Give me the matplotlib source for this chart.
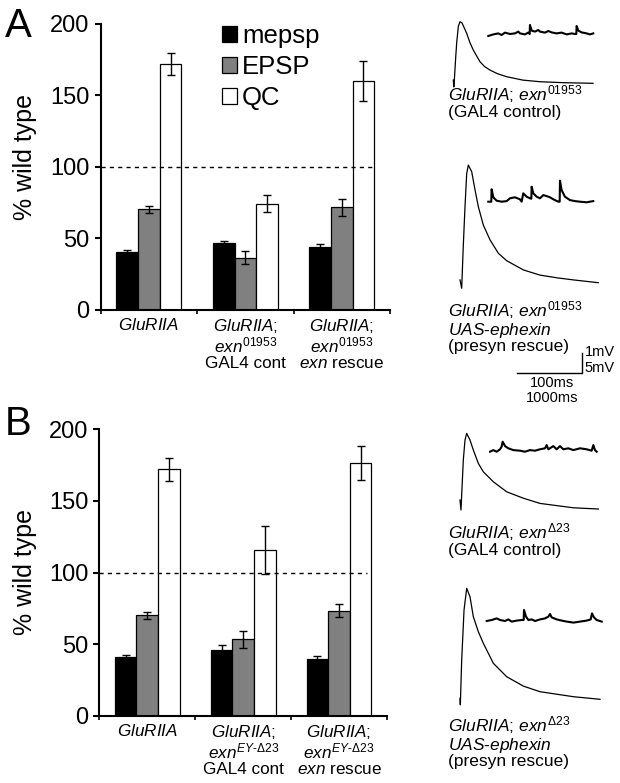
import numpy as np
import matplotlib
matplotlib.use('Agg')
import matplotlib.pyplot as plt
from matplotlib.patches import Patch

plt.rcParams['font.family'] = ['Liberation Sans', 'DejaVu Sans']
plt.rcParams['mathtext.fontset'] = 'custom'
plt.rcParams['mathtext.rm'] = 'Liberation Sans'
plt.rcParams['mathtext.it'] = 'Liberation Sans:italic'
plt.rcParams['mathtext.bf'] = 'Liberation Sans:bold'
plt.rcParams['mathtext.sf'] = 'Liberation Sans'

#-----------------------------------------------------------------------------#
# Bar data (% wild type)
#-----------------------------------------------------------------------------#
series_names = ['mepsp', 'EPSP', 'QC']
series_colors = ['black', '#808080', 'white']

mepsp_A = [40.8, 46.6, 43.8]
mepsp_A_err = [1.5, 2.0, 2.3]
epsp_A = [70.4, 36.6, 71.8]
epsp_A_err = [2.5, 4.5, 6.0]
qc_A = [172.0, 74.4, 160.0]
qc_A_err = [8.0, 6.0, 14.0]

mepsp_B = [40.9, 46.0, 40.0]
mepsp_B_err = [1.5, 3.3, 2.0]
epsp_B = [70.2, 53.5, 73.3]
epsp_B_err = [2.5, 6.0, 4.5]
qc_B = [172.0, 115.8, 176.3]
qc_B_err = [8.0, 16.5, 12.0]

yticks = [0, 50, 100, 150, 200]

groups_A = [
    r'$\mathit{GluRIIA}$',
    '$\\mathit{GluRIIA}$;\n$\\mathit{exn}^{\\mathit{01953}}$\nGAL4 cont',
    '$\\mathit{GluRIIA}$;\n$\\mathit{exn}^{\\mathit{01953}}$\n$\\mathit{exn}$ rescue',
]
groups_B = [
    r'$\mathit{GluRIIA}$',
    '$\\mathit{GluRIIA}$;\n$\\mathit{exn}^{\\mathit{EY}\\text{-}\\mathit{Δ23}}$\nGAL4 cont',
    '$\\mathit{GluRIIA}$;\n$\\mathit{exn}^{\\mathit{EY}\\text{-}\\mathit{Δ23}}$\n$\\mathit{exn}$ rescue',
]

trace_labels_A = [
    '$\\mathit{GluRIIA}$; $\\mathit{exn}^{\\mathit{01953}}$\n(GAL4 control)',
    '$\\mathit{GluRIIA}$; $\\mathit{exn}^{\\mathit{01953}}$\n$\\mathit{UAS}$-$\\mathit{ephexin}$\n(presyn rescue)',
]
trace_labels_B = [
    '$\\mathit{GluRIIA}$; $\\mathit{exn}^{\\mathit{Δ23}}$\n(GAL4 control)',
    '$\\mathit{GluRIIA}$; $\\mathit{exn}^{\\mathit{Δ23}}$\n$\\mathit{UAS}$-$\\mathit{ephexin}$\n(presyn rescue)',
]

#-----------------------------------------------------------------------------#
# Example traces: EPSP (ms, mV) and mEPSP (ms, mV)
#-----------------------------------------------------------------------------#
epsp_A1_t = [0, 0.8, 1.5, 3.5, 5.2, 7.7, 10.3, 13.4, 20.6, 25.5, 30.8, 41, 48, 56.5, 68, 82, 107, 133, 170, 215]
epsp_A1_v = [0.8, -0.9, 0.5, 6.0, 10.1, 14.2, 15.4, 15.1, 12.5, 10.2, 8.3, 5.4, 4.2, 3.3, 2.4, 1.65, 0.8, 0.4, 0.15, 0]
mepsp_A1_t = [0, 77, 154, 205, 256, 333, 410, 462, 487, 564, 615, 636, 641, 667, 718, 769, 795, 872, 923, 974,
              1051, 1128, 1205, 1282, 1333, 1354, 1359, 1385, 1436, 1513, 1564, 1615]
mepsp_A1_v = [-0.05, 0.03, 0.08, 0.0, 0.12, 0.05, 0.08, 0.17, 0.08, 0.03, 0.12, 0.05, 0.5, 0.22, 0.17, 0.25,
              0.17, 0.12, 0.2, 0.13, 0.08, 0.12, 0.03, 0.08, 0.05, 0.05, 0.45, 0.22, 0.13, 0.08, 0.03, 0.08]

epsp_A2_t = [0, 2.6, 5.0, 7.7, 10.3, 12.8, 18, 23.1, 28.2, 35.9, 46.2, 59, 71.8, 97.4, 123, 150, 174.4, 212.8]
epsp_A2_v = [0.7, -1.4, 9.0, 19.0, 27.3, 29.4, 27.75, 23.2, 19.0, 14.4, 10.7, 7.35, 5.5, 3.2, 1.9, 1.2, 0.7, 0]
mepsp_A2_t = [0, 46, 51, 77, 128, 205, 282, 333, 410, 487, 513, 538, 590, 641, 662, 667, 692, 744, 795, 846,
              897, 949, 1000, 1077, 1098, 1103, 1128, 1179, 1256, 1333, 1410, 1513, 1615]
mepsp_A2_v = [0.0, 0.0, 0.62, 0.22, 0.05, 0.0, 0.03, 0.17, 0.22, 0.12, 0.0, 0.42, 0.25, 0.17, 0.15, 0.75, 0.42,
              0.25, 0.17, 0.33, 0.28, 0.22, 0.12, 0.0, 0.0, 1.05, 0.58, 0.25, 0.08, 0.03, 0.0, -0.03, 0.03]

epsp_B1_t = [0, 1.5, 5.1, 7.7, 10.3, 15.4, 20.5, 28.2, 35.9, 51.3, 71.8, 97.4, 123, 174.4, 212.8]
epsp_B1_v = [2.25, -0.25, 12.25, 17.25, 18.9, 17.25, 14.75, 11.4, 9.3, 6.8, 4.3, 2.7, 1.4, 0.3, 0]
mepsp_B1_t = [0, 51, 103, 154, 179, 195, 231, 282, 359, 462, 538, 615, 692, 769, 846, 872, 897, 974, 1026,
              1077, 1128, 1205, 1282, 1385, 1487, 1564, 1590, 1615, 1641]
mepsp_B1_v = [-0.05, 0.03, -0.05, 0.07, 0.2, 0.45, 0.23, 0.12, 0.03, 0.0, -0.05, 0.03, 0.0, 0.07, 0.12, 0.28,
              0.07, 0.23, 0.07, 0.23, 0.07, 0.12, 0.03, 0.12, 0.07, 0.0, 0.28, 0.03, -0.05]

epsp_B2_t = [0, 0.5, 2.6, 6.2, 10.3, 15.4, 20.5, 28.2, 35.9, 51.3, 71.8, 97.4, 123, 174.4, 215.4]
epsp_B2_v = [0.25, -1.4, 9.8, 22.3, 27.75, 25.65, 20.65, 16.9, 14.0, 9.0, 5.65, 3.3, 1.9, 0.65, 0]
mepsp_B2_t = [0, 77, 154, 205, 282, 333, 385, 462, 538, 569, 574, 605, 641, 692, 744, 821, 897, 949, 974,
              1000, 1077, 1154, 1231, 1333, 1436, 1538, 1600, 1620, 1651, 1692, 1769]
mepsp_B2_v = [0.0, 0.05, 0.13, 0.05, 0.0, 0.08, -0.03, 0.02, 0.05, 0.05, 0.55, 0.22, 0.05, 0.08, 0.0, 0.08,
              0.13, 0.22, 0.35, 0.18, 0.08, 0.02, -0.03, -0.08, -0.03, 0.02, 0.08, 0.38, 0.18, 0.05, -0.03]

W, H = 620, 783
fig = plt.figure(figsize=(W/100, H/100), dpi=100)


def px_axes(left, top, right, bottom):
    # axes box given in pixels measured from the top-left corner
    return fig.add_axes([left/W, 1 - bottom/H, (right - left)/W, (bottom - top)/H])


def draw_bars(ax, values, errors, groups, dash_end, legend=False):
    x = np.arange(3) + 0.5
    width = 0.225
    for k in range(3):
        ax.bar(x + (k - 1)*width, values[k], width, color=series_colors[k],
               edgecolor='black', linewidth=0.9, label=series_names[k], zorder=2)
        ax.errorbar(x + (k - 1)*width, values[k], yerr=errors[k], fmt='none',
                    ecolor='black', elinewidth=1, capsize=3, capthick=1, zorder=4)
    ax.axhline(100, xmin=0, xmax=dash_end, color='black', lw=1, dashes=(3, 3), zorder=3)

    ax.set_xlim(0, 3)
    ax.set_ylim(0, 200)
    ax.set_yticks(yticks)
    ax.set_xticks([0, 1, 2, 3])
    ax.set_xticklabels([])
    ax.tick_params(axis='y', direction='out', length=4, width=1.5, labelsize=17, pad=4)
    ax.tick_params(axis='x', direction='out', length=3, width=1.2)
    for s in ['top', 'right']:
        ax.spines[s].set_visible(False)
    for s in ['left', 'bottom']:
        ax.spines[s].set_linewidth(1.5)

    for i, label in enumerate(groups):
        ax.annotate(label, xy=(x[i], 0), xycoords=ax.get_xaxis_transform(),
                    xytext=(0, -5), textcoords='offset points',
                    ha='center', va='top', fontsize=12.3, linespacing=1.05,
                    multialignment='center')

    if legend:
        handles = [Patch(facecolor=c, edgecolor='black', linewidth=0.9) for c in series_colors]
        ax.legend(handles, series_names, loc='upper left', bbox_to_anchor=(0.418, 1.0),
                  frameon=False, fontsize=18.5, handlelength=0.6, handleheight=0.6,
                  handletextpad=0.2, labelspacing=0.28, borderpad=0, borderaxespad=0)


def trace_axes(x0, y0, t_range, v_range, px_t, px_v):
    # (x0, y0): pixel location of t=0, v=0; px_t, px_v: pixels per ms and per mV
    left = x0 + t_range[0]*px_t
    right = x0 + t_range[1]*px_t
    bottom = y0 - v_range[0]*px_v
    top = y0 - v_range[1]*px_v
    ax = px_axes(left, top, right, bottom)
    ax.set_xlim(*t_range)
    ax.set_ylim(*v_range)
    ax.axis('off')
    return ax


def draw_trace(x0, y0, t, v, xm0, ym0, tm, vm):
    ax = trace_axes(x0, y0, (-5, 225), (-3, 32), 0.65, 4.0)
    ax.plot(t, v, color='black', lw=0.9)
    axm = trace_axes(xm0, ym0, (-20, 1800), (-0.5, 1.2), 0.065, 20.0)
    axm.plot(tm, vm, color='black', lw=1.5)


def trace_label(y_top, label):
    fig.text(448/W, 1 - y_top/H, label, ha='left', va='top', fontsize=12.5, linespacing=0.98)


#-----------------------------------------------------------------------------#
# Panel A
#-----------------------------------------------------------------------------#
axA = px_axes(100.7, 24, 390, 310)
draw_bars(axA, [mepsp_A, epsp_A, qc_A], [mepsp_A_err, epsp_A_err, qc_A_err],
          groups_A, dash_end=0.95, legend=True)
fig.text(25/W, 1 - 157/H, '% wild type', rotation=90, ha='center', va='center', fontsize=18)
fig.text(5/W, 1 - 26/H, 'A', ha='left', va='center', fontsize=29)

draw_trace(453.3, 83.3, epsp_A1_t, epsp_A1_v, 488.3, 35, mepsp_A1_t, mepsp_A1_v)
draw_trace(460, 282.7, epsp_A2_t, epsp_A2_v, 488.3, 201.7, mepsp_A2_t, mepsp_A2_v)
trace_label(83, trace_labels_A[0])
trace_label(299, trace_labels_A[1])

# scale bar: 100 ms / 5 mV for EPSPs, 1000 ms / 1 mV for mEPSPs
axs = trace_axes(517, 373, (-5, 140), (-10, 8), 0.65, 4.0)
axs.plot([0, 100, 100], [0, 0, 5], color='black', lw=1)
axs.text(104, 5.2, '1mV', ha='left', va='center', fontsize=10.5)
axs.text(104, 1.2, '5mV', ha='left', va='center', fontsize=10.5)
axs.text(54, -2.6, '100ms', ha='center', va='center', fontsize=10.5)
axs.text(54, -6.3, '1000ms', ha='center', va='center', fontsize=10.5)

#-----------------------------------------------------------------------------#
# Panel B
#-----------------------------------------------------------------------------#
axB = px_axes(99.3, 429.3, 387, 716)
draw_bars(axB, [mepsp_B, epsp_B, qc_B], [mepsp_B_err, epsp_B_err, qc_B_err],
          groups_B, dash_end=0.93)
fig.text(25/W, 1 - 572/H, '% wild type', rotation=90, ha='center', va='center', fontsize=18)
fig.text(5/W, 1 - 424/H, 'B', ha='left', va='center', fontsize=29)

draw_trace(460, 509, epsp_B1_t, epsp_B1_v, 490, 450.7, mepsp_B1_t, mepsp_B1_v)
draw_trace(460, 699.3, epsp_B2_t, epsp_B2_v, 486.7, 621, mepsp_B2_t, mepsp_B2_v)
trace_label(521, trace_labels_B[0])
trace_label(714, trace_labels_B[1])

fig.savefig('out.png', dpi=100)
